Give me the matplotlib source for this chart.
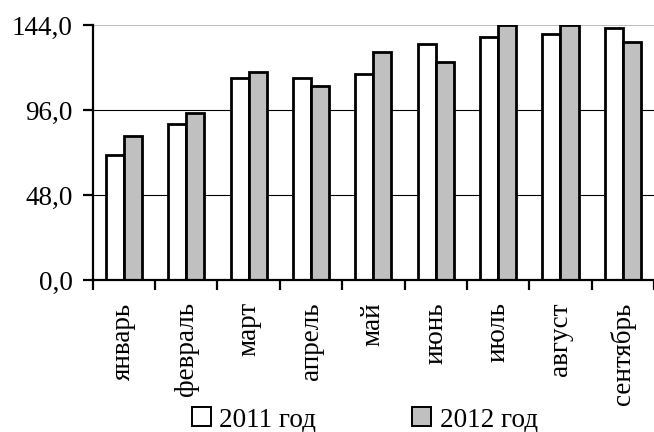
import matplotlib
matplotlib.use("Agg")
import matplotlib.pyplot as plt
import numpy as np
from matplotlib.patches import Patch

plt.rcParams['font.family'] = ['Liberation Serif', 'DejaVu Serif']

months = ["январь", "февраль", "март", "апрель", "май", "июнь", "июль", "август", "сентябрь"]
values_2011 = [70.6, 88.1, 114.2, 114.2, 116.5, 133.1, 137.4, 138.7, 142.5]
values_2012 = [81.5, 94.5, 117.4, 109.7, 128.7, 122.9, 144.0, 144.0, 134.2]
yticks = [0, 48, 96, 144]
ytick_labels = ["0,0", "48,0", "96,0", "144,0"]
series_names = ["2011 год", "2012 год"]

FS = 19.5

fig = plt.figure(figsize=(6.54, 4.32), dpi=100)
ax = fig.add_axes([0.1418, 0.352, 0.8582, 0.590])

x = np.arange(len(months))
w = 0.29
ax.bar(x - w / 2, values_2011, w, color="white", edgecolor="black", linewidth=2.0, zorder=3)
ax.bar(x + w / 2, values_2012, w, color="#c0c0c0", edgecolor="black", linewidth=2.0, zorder=3)

ax.set_xlim(-0.5, len(months) - 0.5)
ax.set_ylim(0, 144)

for yv in yticks[1:-1]:
    ax.axhline(yv, color="black", linewidth=0.8, zorder=1)
ax.axhline(144, color="#b0b0b0", linewidth=1.2, zorder=1)

ax.set_yticks(yticks)
ax.set_yticklabels(ytick_labels, fontsize=FS)
ax.tick_params(axis="y", direction="out", length=7.5, width=1.6, pad=7)

# category boundaries carry the ticks, names sit at centres
ax.set_xticks(np.arange(len(months) + 1) - 0.5)
ax.set_xticklabels([])
ax.tick_params(axis="x", direction="out", length=7.5, width=1.6)
for xi, name in zip(x, months):
    ax.text(xi, -0.088, name, transform=ax.get_xaxis_transform(), rotation=90,
            ha="center", va="top", fontsize=FS)

for s in ["top", "right"]:
    ax.spines[s].set_visible(False)
ax.spines["left"].set_linewidth(1.6)
ax.spines["bottom"].set_linewidth(1.6)
ax.spines["bottom"].set_zorder(4)

handles = [Patch(facecolor="white", edgecolor="black", linewidth=1.4),
           Patch(facecolor="#c0c0c0", edgecolor="black", linewidth=1.4)]
fig.legend(handles, series_names, loc="center", bbox_to_anchor=(0.558, 0.028),
           ncol=2, frameon=False, fontsize=FS, handlelength=0.7, handleheight=0.7,
           handletextpad=0.3, columnspacing=3.55, borderpad=0.1)

fig.savefig("out.png", dpi=100)
